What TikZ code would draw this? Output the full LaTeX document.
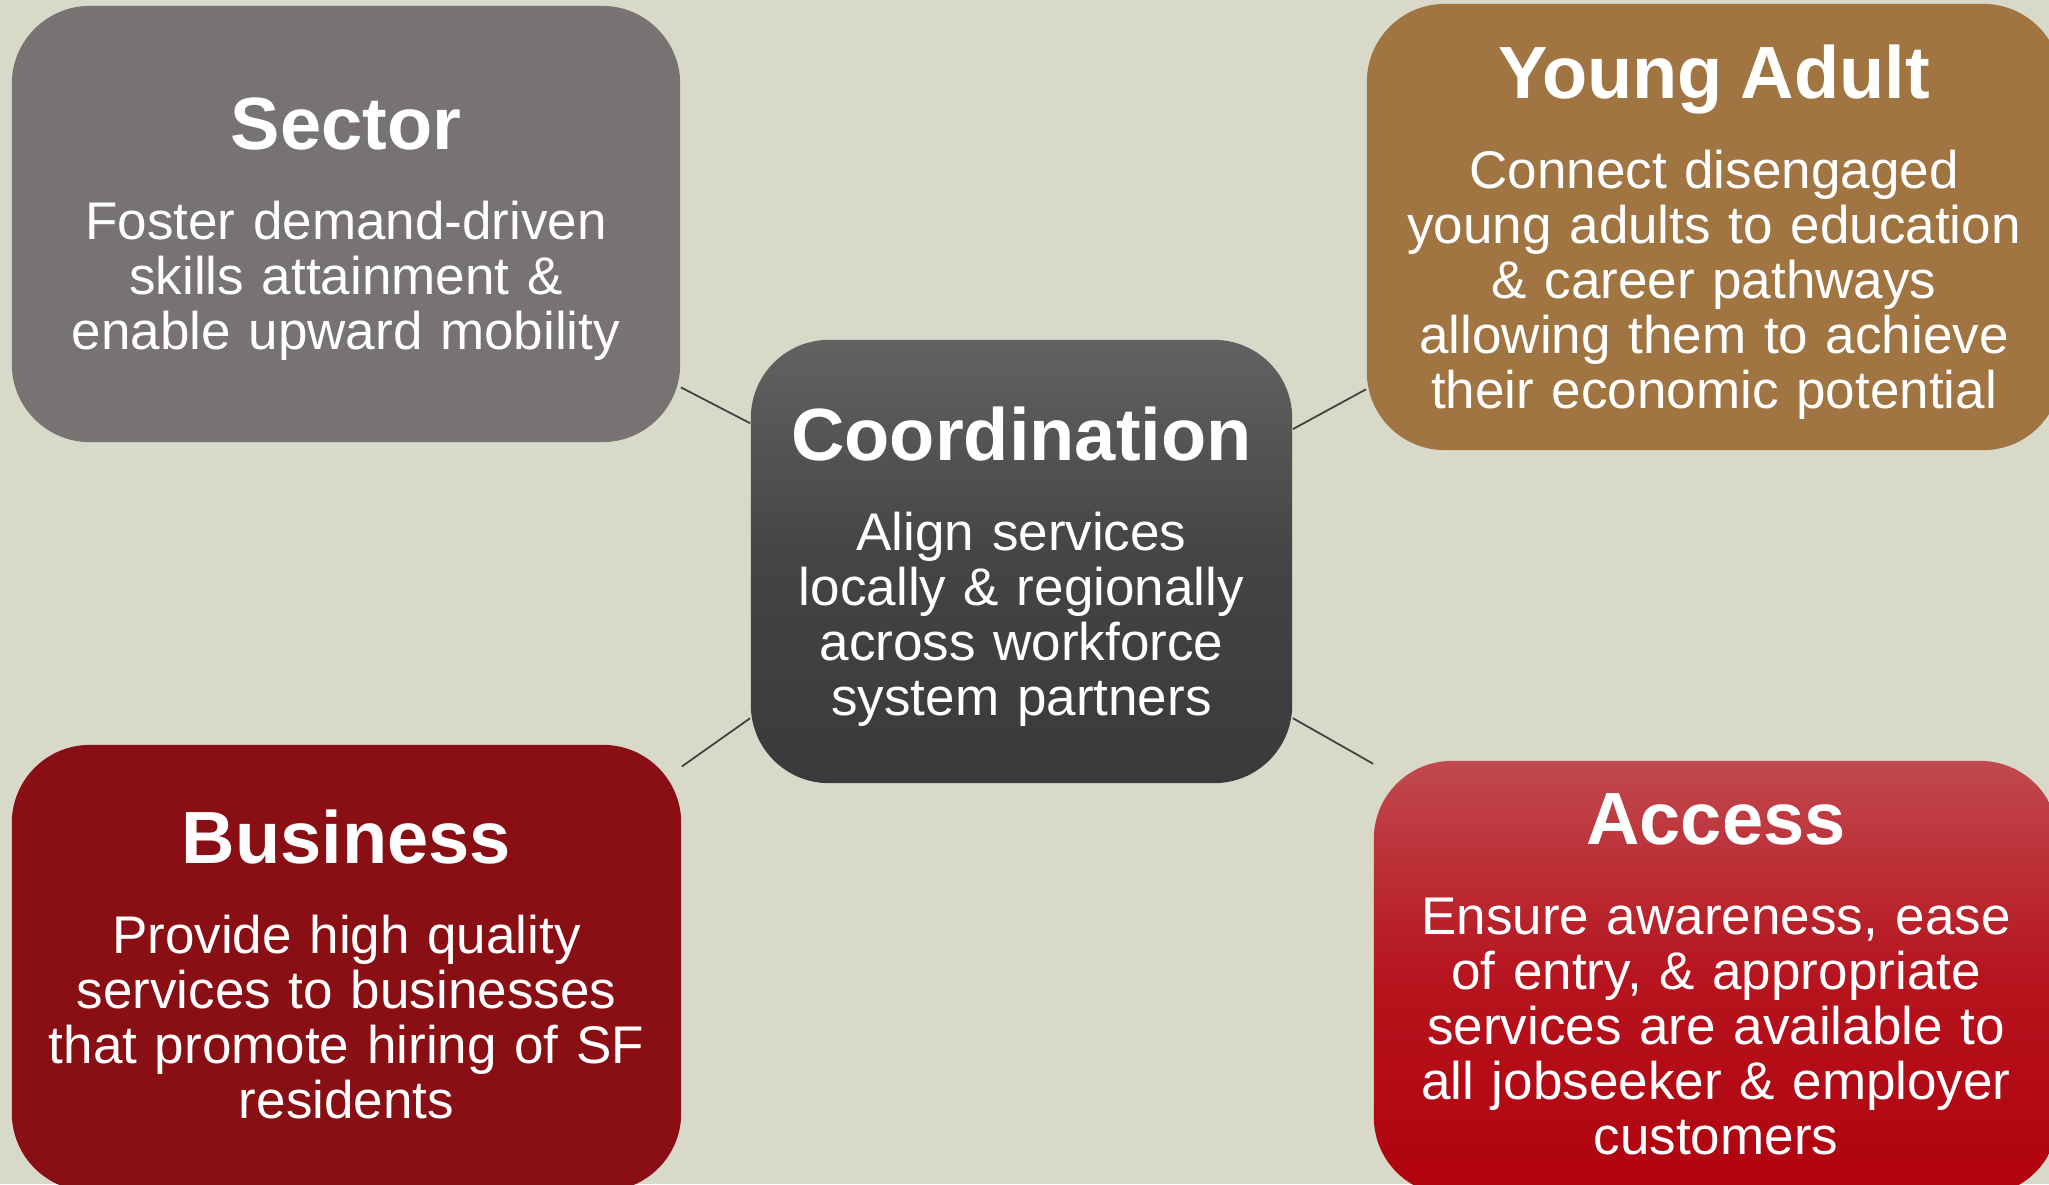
\documentclass[tikz,border=0pt]{standalone}
\usepackage{fontspec}
\setmainfont{Liberation Sans}
\usetikzlibrary{positioning}
\definecolor{bgcol}{RGB}{216,217,201}
\definecolor{sectorcol}{RGB}{119,115,114}
\definecolor{youngcol}{RGB}{160,117,66}
\definecolor{businesscol}{RGB}{137,15,21}
\definecolor{coordtop}{RGB}{98,98,98}
\definecolor{coordmid}{RGB}{68,68,70}
\definecolor{coordbot}{RGB}{58,58,60}
\definecolor{accesstop}{RGB}{193,73,78}
\definecolor{accessmid}{RGB}{182,20,30}
\definecolor{accessbot}{RGB}{176,2,14}
\newcommand{\hdfont}{\fontsize{21.05}{15.65}\selectfont\bfseries}
\newcommand{\hd}[1]{{\hdfont #1}\\[0.35cm]}
\newcommand{\lastln}[2][0pt]{\raisebox{0pt}[\height][#1]{#2}}
\tikzset{
    boxsty/.style={rectangle, rounded corners=0.78cm, inner sep=0pt, align=center,
                   text width=#1, text=white,
                   font=\fontsize{15.08}{15.65}\selectfont},
    boxsty/.default=6.4cm,
    linesty/.style={draw=black!75, line width=0.5pt},
}

\begin{document}
\begin{tikzpicture}[x=0.01cm, y=-0.01cm]
  \fill[bgcol] (0,0) rectangle (2049,1184);
  \useasboundingbox (0,0) rectangle (2049,1184);

  \node[boxsty, fill=sectorcol, minimum width=6.68cm, minimum height=4.36cm] (sector) at (346,224)
    {\hd{Sector}Foster demand-driven\\ skills attainment \&\\ \lastln{enable upward mobility}};
  \node[boxsty=4.9cm, top color=coordtop, bottom color=coordbot, middle color=coordmid,
        minimum width=5.41cm, minimum height=4.43cm] (coord) at (1021.5,561.5)
    {\hd{Coordination}Align services\\ locally \& regionally\\ across workforce\\ \lastln{system partners}};
  \node[boxsty, fill=youngcol, minimum width=6.94cm, minimum height=4.46cm] (young) at (1714,227)
    {\hd{Young Adult}Connect disengaged\\ young adults to education\\ \& career pathways\\ allowing them to achieve\\ \lastln{their economic potential}};
  \node[boxsty, fill=businesscol, minimum width=6.69cm, minimum height=4.46cm] (business) at (346.5,968)
    {\hd{Business}Provide high quality\\ services to businesses\\ that promote hiring of SF\\ \lastln[0.08cm]{residents}};
  \node[boxsty, top color=accesstop, bottom color=accessbot, middle color=accessmid,
        minimum width=6.84cm, minimum height=4.34cm] (access) at (1716,978)
    {\hd{Access}Ensure awareness, ease\\ of entry, \& appropriate\\ services are available to\\ all jobseeker \& employer\\ \lastln[0.08cm]{customers}};

  % spokes
  \draw[linesty] (sector.-26.3) -- (coord.153.2);
  \draw[linesty] (coord.26.2) -- (young.205.6);
  \draw[linesty] (coord.210.8) -- (business.31.4);
  \draw[linesty] (coord.-30.6) -- (access.148.6);
\end{tikzpicture}
\end{document}
